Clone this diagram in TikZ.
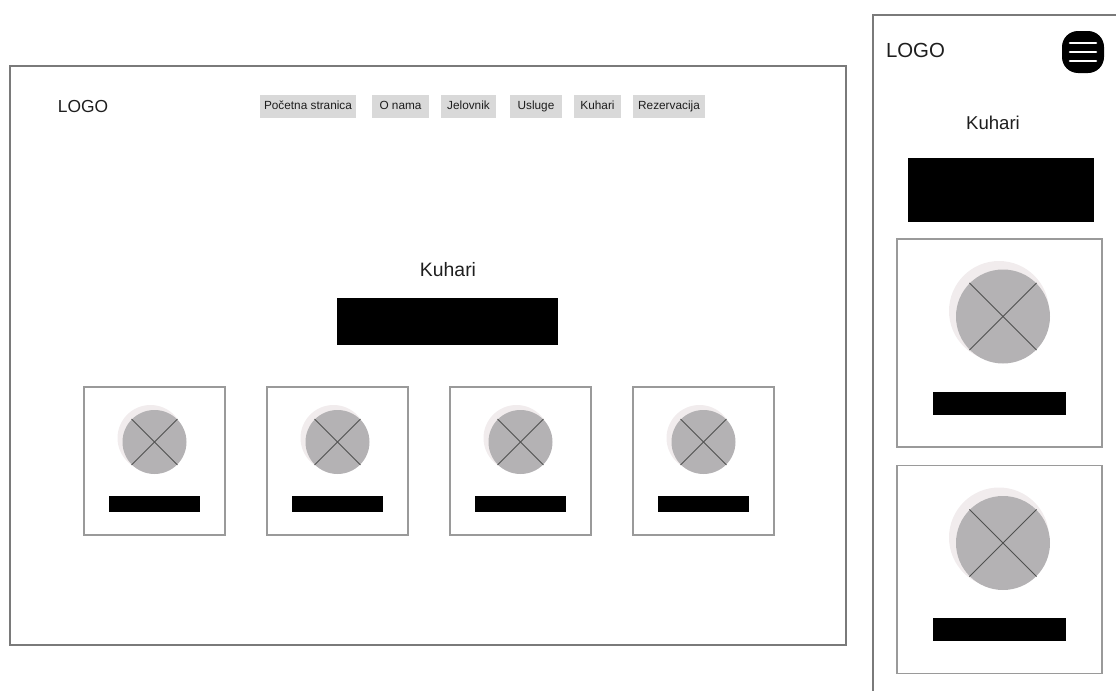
\documentclass[tikz,border=0pt]{standalone}
\usepackage{fontspec}
\setmainfont{Liberation Sans}
\usetikzlibrary{positioning}
\definecolor{framegray}{HTML}{7A7A7A}
\definecolor{cardgray}{HTML}{9A9A9A}
\definecolor{navgray}{HTML}{D9D9D9}
\definecolor{photogray}{HTML}{B4B2B4}
\definecolor{halogray}{HTML}{F1ECED}
\definecolor{crossgray}{HTML}{505050}
\definecolor{inkgray}{HTML}{1E1E1E}
\tikzset{   frame/.style = {draw = framegray, line width = 0.7pt},
            card/.style = {rectangle, draw = cardgray, line width = 0.6pt, inner sep = 0pt, outer sep = 0pt},
            navitem/.style = {rectangle, fill = navgray, inner sep = 0pt, minimum height = 11.5pt, text height = 4.6pt, text depth = 1.3pt, text = inkgray, font = \fontsize{5.9}{7}\selectfont},
            bar/.style = {rectangle, fill = black, inner sep = 0pt},
            photo/.style = {circle, fill = photogray, inner sep = 0pt},
            halo/.style = {circle, fill = halogray, inner sep = 0pt},
            cross/.style = {draw = crossgray, line width = 0.5pt},
            label/.style = {text = inkgray, inner sep = 0pt}}

\begin{document}
\begin{tikzpicture}[x=0.5pt, y=-0.5pt]
                        \useasboundingbox (0,0) rectangle (1116,691);
                        \clip (0,0) rectangle (1116,691);
                        % desktop
                        \draw[frame] (10,66) rectangle (846,645);
                        \node[label, font=\fontsize{8.7}{10}\selectfont] (logo) at (83,107) {LOGO};
                        \foreach \name/\x/\w/\txt in {home/308/48/Početna stranica, about/400.5/28.5/O nama,
                                                      menu/468.5/27.5/Jelovnik, services/536/26/Usluge,
                                                      chefs/597.5/23.5/Kuhari, booking/669/36/Rezervacija}
                          \node[navitem, minimum width=\w pt] (\name) at (\x,106.5) {\txt};
                        \node[label, font=\fontsize{9.7}{11}\selectfont] (title) at (448,270) {Kuhari};
                        \node[bar, minimum width=110.5pt, minimum height=23.5pt] (banner) at (447.5,321.5) {};
                        \foreach \i in {0,...,3} {
                          \node[card, minimum width=70.5pt, minimum height=74pt] (card\i) at (154.5+183*\i,461) {};
                          \node[halo, minimum size=33pt] (halo\i) at ([shift={(-4,-23)}]card\i.center) {};
                          \node[photo, minimum size=32pt] (photo\i) at ([shift={(0,-19)}]card\i.center) {};
                          \draw[cross] (photo\i.north west) -- (photo\i.south east);
                          \draw[cross] (photo\i.north east) -- (photo\i.south west);
                          \node[bar, minimum width=45.5pt, minimum height=8pt] (name\i) at ([shift={(0,43)}]card\i.center) {};
                        }
                        % mobile
                        \draw[frame] (873,700) -- (873,15) -- (1130,15);
                        \node[label, font=\fontsize{10.2}{12}\selectfont] (mlogo) at (915.5,50) {LOGO};
                        \node[rectangle, rounded corners=8pt, fill=black, minimum size=21pt] (burger) at (1083,52) {};
                        \foreach \dy in {-9,0,9}
                          \draw[white, line width=1.3pt, line cap=round] ([shift={(-13,\dy)}]burger.center) -- ([shift={(13,\dy)}]burger.center);
                        \node[label, font=\fontsize{9.3}{11}\selectfont] (mtitle) at (993,123) {Kuhari};
                        \node[bar, minimum width=93pt, minimum height=32pt] (mbanner) at (1001,190) {};
                        \foreach \y/\i in {343/1, 569.5/2} {
                          \node[card, minimum width=102.5pt, minimum height=104pt] (mcard\i) at (999.5,\y) {};
                          \node[halo, minimum size=50pt] (mhalo\i) at ([shift={(-0.5,-32)}]mcard\i.center) {};
                          \node[photo, minimum size=47pt] (mphoto\i) at ([shift={(3.5,-26.5)}]mcard\i.center) {};
                          \draw[cross] (mphoto\i.north west) -- (mphoto\i.south east);
                          \draw[cross] (mphoto\i.north east) -- (mphoto\i.south west);
                          \node[bar, minimum width=66.5pt, minimum height=11.5pt] (mname\i) at ([shift={(0,60)}]mcard\i.center) {};
                        }
\end{tikzpicture}
\end{document}
